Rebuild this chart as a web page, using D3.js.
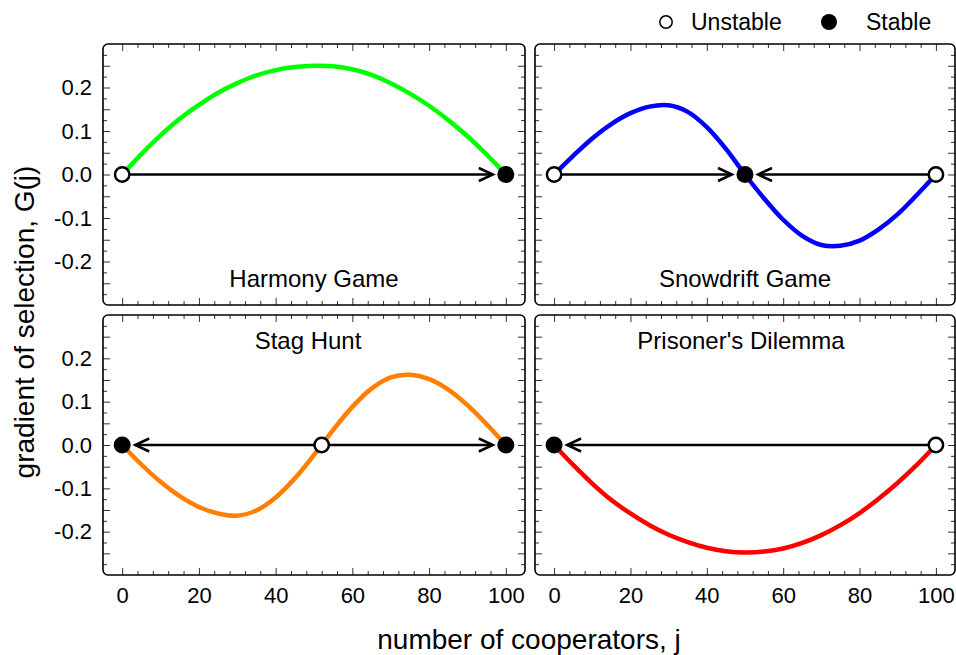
<!DOCTYPE html>
<html>
<head>
<meta charset="utf-8">
<script src="https://d3js.org/d3.v7.min.js"></script>
<style>
  body { margin: 0; background: #fff; }
  svg { font-family: "Liberation Sans", Arial, Helvetica, sans-serif; }
</style>
</head>
<body>
<svg width="956" height="655"></svg>
<script>
// values
const cooperators = [0, 5, 10, 15, 20, 25, 30, 35, 40, 45, 50, 55, 60, 65, 70, 75, 80, 85, 90, 95, 100];
const harmony   = [0, 0.047, 0.090, 0.128, 0.160, 0.188, 0.210, 0.228, 0.240, 0.247, 0.250, 0.249, 0.242, 0.229, 0.210, 0.186, 0.158, 0.125, 0.088, 0.046, 0];
const snowdrift = [0, 0.043, 0.083, 0.116, 0.141, 0.156, 0.159, 0.144, 0.109, 0.059, 0, -0.055, -0.104, -0.141, -0.162, -0.164, -0.152, -0.126, -0.091, -0.047, 0];
const stagHunt  = [0, -0.045, -0.085, -0.118, -0.143, -0.158, -0.163, -0.151, -0.121, -0.077, -0.023, 0.035, 0.088, 0.130, 0.156, 0.162, 0.152, 0.128, 0.092, 0.048, 0];
const prisoners = [0, -0.046, -0.089, -0.127, -0.158, -0.185, -0.207, -0.224, -0.237, -0.245, -0.248, -0.246, -0.239, -0.226, -0.208, -0.185, -0.157, -0.124, -0.087, -0.046, 0];

const panelTitles = ["Harmony Game", "Snowdrift Game", "Stag Hunt", "Prisoner's Dilemma"];
const curveColors = ["#00ff00", "#0000ff", "#ff8000", "#ff0000"];
const seriesList = [harmony, snowdrift, stagHunt, prisoners];

// fixed points per panel: [j, stable?]
const fixedPoints = [
  [[0, false], [100, true]],
  [[0, false], [50, true], [100, false]],
  [[0, true], [52, false], [100, true]],
  [[0, true], [100, false]]
];
// direction of selection: [from, to]
const arrows = [
  [[0, 100]],
  [[0, 50], [100, 50]],
  [[52, 0], [52, 100]],
  [[100, 0]]
];

const xTicks = [0, 20, 40, 60, 80, 100];
const yTicks = [-0.2, -0.1, 0.0, 0.1, 0.2];
const legendItems = ["Unstable", "Stable"];

const svg = d3.select("svg");

const cols = [[103, 525], [535, 955]];
const rows = [[44, 305], [315, 575]];

const xMinor = d3.range(0, 101, 4).filter(v => v % 20 !== 0);
const yMid = d3.range(-5, 6).map(v => v * 0.05);
const yMinor = d3.range(-11, 12, 2).map(v => v * 0.025);

seriesList.forEach((series, i) => {
  const r = Math.floor(i / 2), c = i % 2;
  const x = d3.scaleLinear().domain([-5, 105]).range(cols[c]);
  const y = d3.scaleLinear().domain([-0.3, 0.3]).range([rows[r][1], rows[r][0]]);
  const g = svg.append("g");

  const L = cols[c][0], R = cols[c][1], T = rows[r][0], B = rows[r][1];

  // ticks on every side, pointing inward
  function addAxis(gen, tr, labels) {
    const ax = g.append("g").attr("transform", tr).call(gen);
    ax.select(".domain").remove();
    ax.selectAll("line").attr("stroke", "#333").attr("stroke-width", 1);
    if (!labels) ax.selectAll("text").remove();
    return ax;
  }
  const fmt = d => d.toFixed(1);

  // x: bottom and top
  addAxis(d3.axisBottom(x).tickValues(xMinor).tickSize(-4).tickFormat(""), `translate(0,${B})`, false);
  addAxis(d3.axisTop(x).tickValues(xMinor).tickSize(-4).tickFormat(""), `translate(0,${T})`, false);
  const xb = addAxis(d3.axisBottom(x).tickValues(xTicks).tickSize(-7).tickPadding(12), `translate(0,${B})`, r === 1);
  addAxis(d3.axisTop(x).tickValues(xTicks).tickSize(-7).tickFormat(""), `translate(0,${T})`, false);
  xb.selectAll("text").attr("font-size", 22).attr("fill", "#000").attr("font-family", null);

  // y: left and right
  addAxis(d3.axisLeft(y).tickValues(yMinor).tickSize(-4).tickFormat(""), `translate(${L},0)`, false);
  addAxis(d3.axisRight(y).tickValues(yMinor).tickSize(-4).tickFormat(""), `translate(${R},0)`, false);
  addAxis(d3.axisLeft(y).tickValues(yMid).tickSize(-7).tickFormat(""), `translate(${L},0)`, false);
  addAxis(d3.axisRight(y).tickValues(yMid).tickSize(-7).tickFormat(""), `translate(${R},0)`, false);
  if (c === 0) {
    const yl = addAxis(d3.axisLeft(y).tickValues(yTicks).tickSize(0).tickPadding(11).tickFormat(fmt), `translate(${L},0)`, true);
    yl.selectAll("text").attr("font-size", 22).attr("fill", "#000").attr("font-family", null);
  }

  // frame
  g.append("rect")
    .attr("x", L).attr("y", T)
    .attr("width", R - L).attr("height", B - T)
    .attr("rx", 5).attr("ry", 5)
    .attr("fill", "none").attr("stroke", "#000").attr("stroke-width", 1.6);

  // title
  g.append("text")
    .attr("x", (L + R) / 2 - (i === 2 ? 6 : i === 3 ? 4 : 0))
    .attr("y", r === 0 ? B - 18 : T + 34)
    .attr("text-anchor", "middle")
    .attr("font-size", 24)
    .text(panelTitles[i]);

  // curve
  const line = d3.line()
    .x((d, k) => x(cooperators[k]))
    .y(d => y(d))
    .curve(d3.curveCatmullRom);
  g.append("path")
    .datum(series)
    .attr("d", line)
    .attr("fill", "none")
    .attr("stroke", curveColors[i])
    .attr("stroke-width", 4.5);

  // arrows
  arrows[i].forEach(([from, to]) => {
    const dir = Math.sign(to - from);
    const tip = x(to) - dir * 13;
    const y0 = y(0);
    g.append("line")
      .attr("x1", x(from)).attr("x2", tip)
      .attr("y1", y0).attr("y2", y0)
      .attr("stroke", "#000").attr("stroke-width", 2.5);
    g.append("path")
      .attr("d", `M${tip - dir * 14},${y0 - 6.5}L${tip},${y0}L${tip - dir * 14},${y0 + 6.5}`)
      .attr("fill", "none").attr("stroke", "#000").attr("stroke-width", 2.5);
  });

  // fixed points
  g.selectAll("circle.fp")
    .data(fixedPoints[i])
    .join("circle")
    .attr("class", "fp")
    .attr("cx", d => x(d[0]))
    .attr("cy", y(0))
    .attr("r", d => d[1] ? 8.5 : 7.2)
    .attr("fill", d => d[1] ? "#000" : "#fff")
    .attr("stroke", "#000")
    .attr("stroke-width", d => d[1] ? 0 : 2.5);
});

// axis titles
svg.append("text")
  .attr("x", 529).attr("y", 649)
  .attr("text-anchor", "middle")
  .attr("font-size", 28)
  .text("number of cooperators, j");

svg.append("text")
  .attr("transform", "translate(34,322) rotate(-90)")
  .attr("text-anchor", "middle")
  .attr("font-size", 28)
  .text("gradient of selection, G(j)");

// legend
const legend = svg.append("g");
legend.append("circle").attr("cx", 666).attr("cy", 22).attr("r", 6.2)
  .attr("fill", "#fff").attr("stroke", "#000").attr("stroke-width", 1.5);
legend.append("text").attr("x", 691).attr("y", 30).attr("font-size", 23).text(legendItems[0]);
legend.append("circle").attr("cx", 829).attr("cy", 22).attr("r", 8).attr("fill", "#000");
legend.append("text").attr("x", 866).attr("y", 30).attr("font-size", 23).text(legendItems[1]);
</script>
</body>
</html>
